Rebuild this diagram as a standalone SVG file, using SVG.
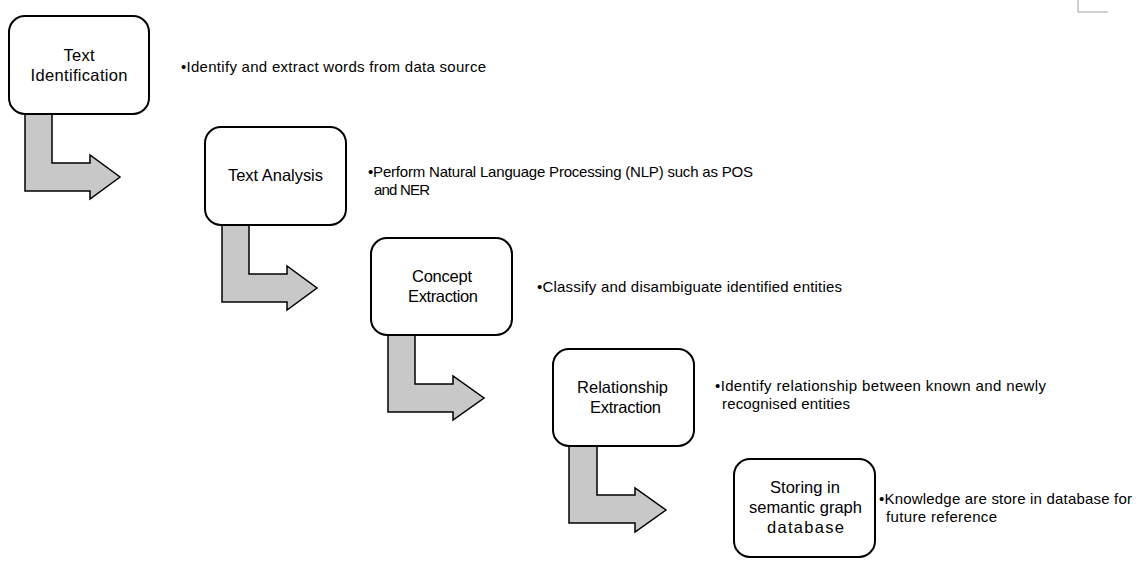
<svg xmlns="http://www.w3.org/2000/svg" width="1148" height="572" viewBox="0 0 1148 572">
<style>
.box{fill:#fff;stroke:#000;stroke-width:2}
.arr{fill:#c8c8c8;stroke:#000;stroke-width:1.5;stroke-linejoin:miter}
.t{font-family:"Liberation Sans",Arial,sans-serif;font-size:16.5px;fill:#000;text-anchor:middle}
.d{font-family:"Liberation Sans",Arial,sans-serif;font-size:15px;fill:#000}
</style>
<rect width="1148" height="572" fill="#fff"/>
<path d="M1078 0 V12 H1108" fill="none" stroke="#a0a0a0" stroke-width="1"/>
<g id="connectors">
<path class="arr" d="M25 114 H52 V163 H90 V155 L120 177 L90 199 V191 H25 Z"/>
<path class="arr" d="M222 225 H249 V274 H287 V266 L317 288 L287 310 V302 H222 Z"/>
<path class="arr" d="M388 335 H415 V384 H453 V376 L484 398 L453 420 V412 H388 Z"/>
<path class="arr" d="M569 446 H597 V495 H635 V488 L666 510 L635 532 V523 H569 Z"/>
</g>
<g id="n1"><rect class="box" x="9" y="16" width="140" height="98" rx="16"/><text class="t" x="79" y="61" textLength="31" lengthAdjust="spacing">Text</text><text class="t" x="79" y="81" textLength="97" lengthAdjust="spacing">Identification</text></g>
<g id="n2"><rect class="box" x="205" y="127" width="141" height="98" rx="16"/><text class="t" x="275.5" y="181" textLength="95" lengthAdjust="spacing">Text Analysis</text></g>
<g id="n3"><rect class="box" x="371" y="238" width="141" height="97" rx="16"/><text class="t" x="442" y="282" textLength="60" lengthAdjust="spacing">Concept</text><text class="t" x="443" y="302" textLength="70" lengthAdjust="spacing">Extraction</text></g>
<g id="n4"><rect class="box" x="553" y="349" width="141" height="97" rx="16"/><text class="t" x="622.5" y="393" textLength="91" lengthAdjust="spacing">Relationship</text><text class="t" x="625.5" y="413" textLength="71" lengthAdjust="spacing">Extraction</text></g>
<g id="n5"><rect class="box" x="734" y="459" width="141" height="98" rx="16"/><text class="t" x="805" y="493" textLength="70" lengthAdjust="spacing">Storing in</text><text class="t" x="805.5" y="513" textLength="113" lengthAdjust="spacing">semantic graph</text><text class="t" x="805.5" y="533" textLength="77" lengthAdjust="spacing">database</text></g>
<g id="labels">
<text class="d" x="181" y="72" textLength="305" lengthAdjust="spacing">•Identify and extract words from data source</text>
<text class="d" x="368" y="177" textLength="385" lengthAdjust="spacing">•Perform Natural Language Processing (NLP) such as POS</text>
<text class="d" x="374" y="195" textLength="56" lengthAdjust="spacing">and NER</text>
<text class="d" x="537" y="292" textLength="305" lengthAdjust="spacing">•Classify and disambiguate identified entities</text>
<text class="d" x="715" y="391" textLength="331" lengthAdjust="spacing">•Identify relationship between known and newly</text>
<text class="d" x="722" y="409" textLength="128" lengthAdjust="spacing">recognised entities</text>
<text class="d" x="879" y="504" textLength="253" lengthAdjust="spacing">•Knowledge are store in database for</text>
<text class="d" x="886" y="522" textLength="111" lengthAdjust="spacing">future reference</text>
</g>
</svg>
